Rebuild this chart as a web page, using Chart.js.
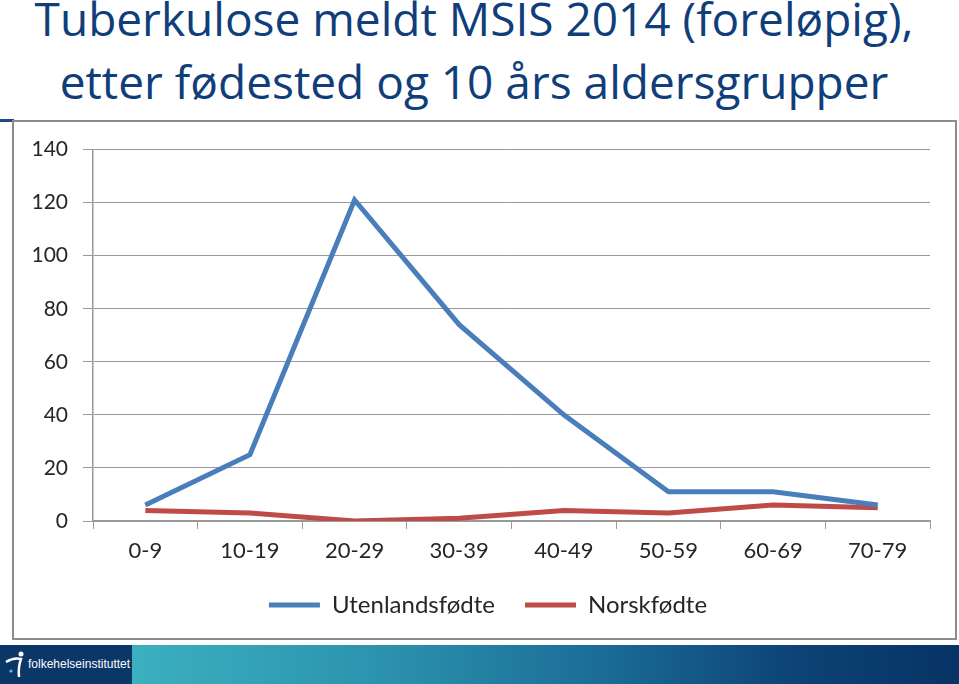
<!DOCTYPE html>
<html>
<head>
<meta charset="utf-8">
<script src="https://cdn.jsdelivr.net/npm/chart.js@4"></script>
<style>
  html, body { margin: 0; padding: 0; background: #fff; }
  body { width: 959px; height: 684px; position: relative; overflow: hidden; font-family: Lato, sans-serif; }
  #title {
    position: absolute; left: 0; top: -13px; width: 948px;
    text-align: center; color: #0F3E7A; font-family: "Open Sans", sans-serif; font-size: 46px; line-height: 63px;
    white-space: nowrap;
  }
  #rule { position: absolute; left: 0; top: 119px; width: 14px; height: 3px; background: #1B4A86; }
  #box {
    position: absolute; left: 12px; top: 120px; width: 945px; height: 520px;
    border: 2px solid #8C8C8C; box-sizing: border-box; background: #fff;
  }
  #box canvas { position: absolute; left: 0; top: 0; }
  #footer { position: absolute; left: 0; top: 645px; width: 959px; height: 39px; }
  #logo { position: absolute; left: 0; top: 0; width: 132px; height: 39px; background: #0B3668; }
  #band {
    position: absolute; left: 132px; top: 0; width: 827px; height: 39px;
    background: linear-gradient(to right, #3BB0BF 0%, #2C93AE 30%, #1A6A96 58%, #0D4376 80%, #073366 100%);
  }
  #logo span {
    position: absolute; left: 28px; top: 12px; color: #fff;
    font-family: "Liberation Sans Narrow", sans-serif; font-size: 12px;
  }
</style>
</head>
<body>
<div id="title">Tuberkulose meldt MSIS 2014 (foreløpig),<br>etter fødested og 10 års aldersgrupper</div>
<div id="rule"></div>
<div id="box"><canvas id="chart" width="941" height="516"></canvas></div>
<div id="footer">
  <div id="logo">
    <svg width="28" height="39" style="position:absolute;left:2px;top:0">
      <circle cx="19" cy="9" r="2.5" fill="#fff"/>
      <path d="M4 17 Q12 12 19 14 Q16 22 17 32" stroke="#fff" stroke-width="2.5" fill="none"/>
      <circle cx="9" cy="26" r="1.6" fill="#5BC4E0"/>
    </svg>
    <span>folkehelseinstituttet</span>
  </div>
  <div id="band"></div>
</div>
<script>
// data
const ageGroups = ['0-9', '10-19', '20-29', '30-39', '40-49', '50-59', '60-69', '70-79'];
const utenlandsfodte = [6, 25, 121, 74, 40, 11, 11, 6];
const norskfodte = [4, 3, 0, 1, 4, 3, 6, 5];
const yMax = 140;
const yStep = 20;

const gridGray = '#9A9A9A';

// the legend in the original sits a bit right of centre
const nudgeLegend = {
  id: 'nudgeLegend',
  afterLayout(chart) {
    chart.legend.left += 16;
    chart.legend.right += 16;
  }
};

new Chart('chart', {
  type: 'line',
  data: {
    labels: ageGroups,
    datasets: [
      {
        label: 'Utenlandsfødte',
        data: utenlandsfodte,
        borderColor: '#4A7EBB',
        backgroundColor: '#4A7EBB',
        borderWidth: 5,
        pointRadius: 0,
        tension: 0
      },
      {
        label: 'Norskfødte',
        data: norskfodte,
        borderColor: '#BE4B48',
        backgroundColor: '#BE4B48',
        borderWidth: 5,
        pointRadius: 0,
        tension: 0
      }
    ]
  },
  plugins: [nudgeLegend],
  options: {
    responsive: false,
    animation: false,
    layout: { padding: { top: 26, right: 25, bottom: 11, left: 0 } },
    scales: {
      x: {
        offset: true,
        afterFit: (s) => { s.height = 42; },
        grid: { offset: true, drawOnChartArea: false, color: gridGray, tickLength: 8 },
        border: { color: gridGray, width: 1.5 },
        ticks: { color: '#262626', font: { family: 'Lato', size: 22 }, padding: 9, maxRotation: 0 }
      },
      y: {
        min: 0,
        max: yMax,
        afterFit: (s) => { s.width = 79; },
        grid: { color: gridGray, tickLength: 10 },
        border: { color: gridGray, width: 1.5 },
        ticks: { stepSize: yStep, color: '#262626', font: { family: 'Lato', size: 21 }, padding: 15 }
      }
    },
    plugins: {
      tooltip: { enabled: false },
      legend: {
        position: 'bottom',
        labels: {
          color: '#262626',
          font: { family: 'Lato', size: 24 },
          usePointStyle: true,
          pointStyle: 'line',
          pointStyleWidth: 51,
          padding: 30
        }
      }
    }
  }
});
</script>
</body>
</html>
